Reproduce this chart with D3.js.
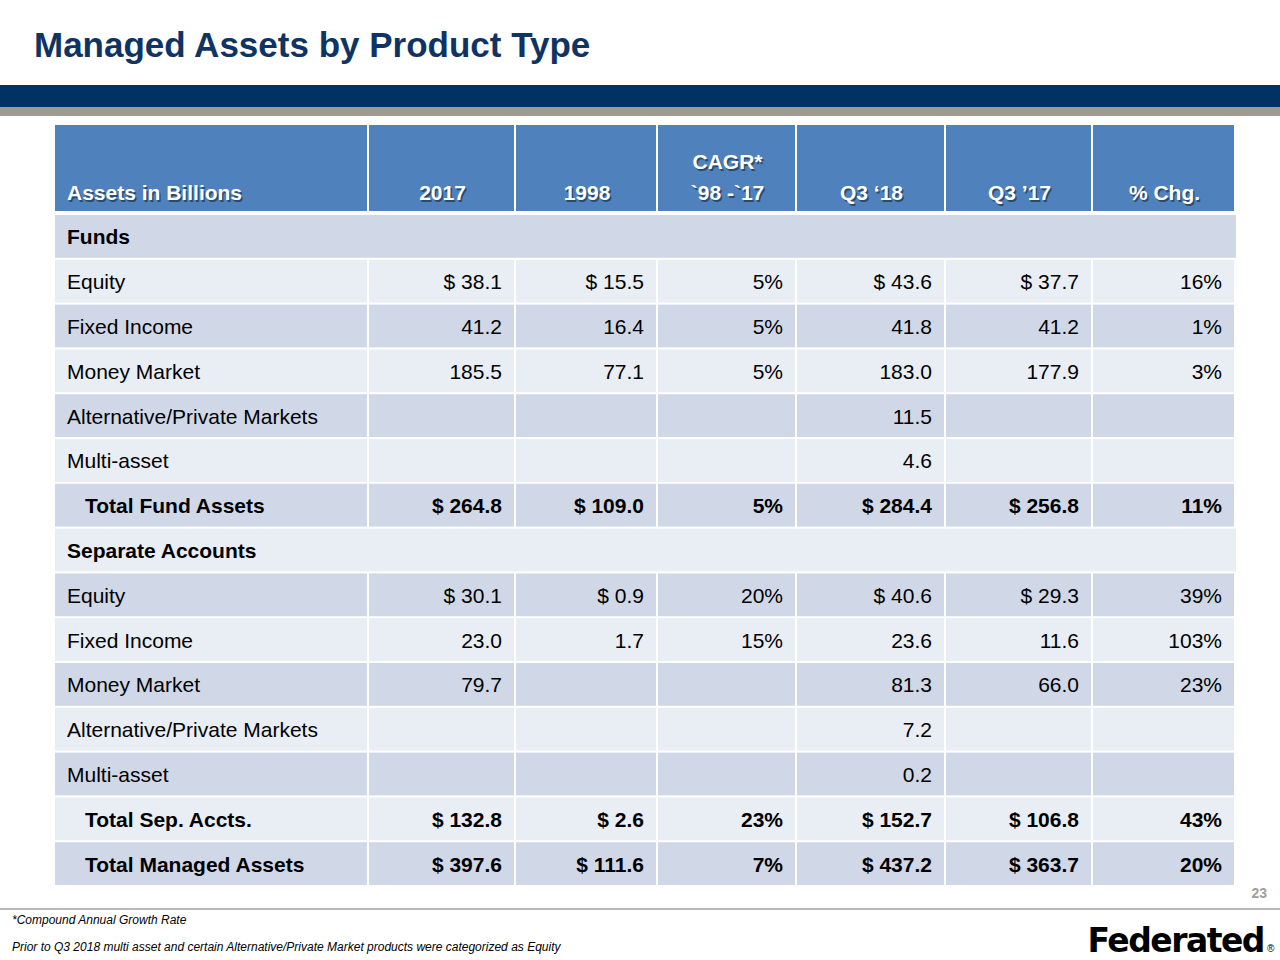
<!DOCTYPE html>
<html><head><meta charset="utf-8">
<script src="https://cdn.jsdelivr.net/npm/d3@7"></script>
<style>body{margin:0;background:#fff}</style>
</head><body>
<svg id="c" width="1280" height="960"></svg>
<script>
const headers = ["Assets in Billions", "2017", "1998", "`98 -`17", "Q3 \u201818", "Q3 \u201917", "% Chg."];
const rowLabels = ["Funds", "Equity", "Fixed Income", "Money Market", "Alternative/Private Markets", "Multi-asset", "Total Fund Assets",
  "Separate Accounts", "Equity", "Fixed Income", "Money Market", "Alternative/Private Markets", "Multi-asset", "Total Sep. Accts.", "Total Managed Assets"];
const rowKind = ["section", "", "", "", "", "", "total", "section", "", "", "", "", "", "total", "total"];
const col2017 = ["", "$ 38.1", "41.2", "185.5", "", "", "$ 264.8", "", "$ 30.1", "23.0", "79.7", "", "", "$ 132.8", "$ 397.6"];
const col1998 = ["", "$ 15.5", "16.4", "77.1", "", "", "$ 109.0", "", "$ 0.9", "1.7", "", "", "", "$ 2.6", "$ 111.6"];
const colCagr = ["", "5%", "5%", "5%", "", "", "5%", "", "20%", "15%", "", "", "", "23%", "7%"];
const colQ318 = ["", "$ 43.6", "41.8", "183.0", "11.5", "4.6", "$ 284.4", "", "$ 40.6", "23.6", "81.3", "7.2", "0.2", "$ 152.7", "$ 437.2"];
const colQ317 = ["", "$ 37.7", "41.2", "177.9", "", "", "$ 256.8", "", "$ 29.3", "11.6", "66.0", "", "", "$ 106.8", "$ 363.7"];
const colChg = ["", "16%", "1%", "3%", "", "", "11%", "", "39%", "103%", "23%", "", "", "43%", "20%"];
const cols = [rowLabels, col2017, col1998, colCagr, colQ318, colQ317, colChg];
const colEdges = [55, 369, 516, 658, 797, 946, 1093, 1236];

const svg = d3.select('#c');
const font = '"Liberation Sans", Arial, sans-serif';

svg.append('text').attr('x', 34).attr('y', 57).attr('font-family', font).attr('font-weight', 'bold')
  .attr('font-size', 35).attr('fill', '#0f3464').text('Managed Assets by Product Type');
svg.append('rect').attr('x', 0).attr('y', 85).attr('width', 1280).attr('height', 22).attr('fill', '#003263');
svg.append('rect').attr('x', 0).attr('y', 107).attr('width', 1280).attr('height', 9).attr('fill', '#a09a90');

const y = d3.scaleBand().domain(d3.range(rowLabels.length)).range([215, 887]);

// header
const g = svg.append('g');
for (let c = 0; c < 7; c++) {
  const x0 = colEdges[c], x1 = colEdges[c + 1];
  g.append('rect').attr('x', x0).attr('y', 125).attr('width', x1 - x0 - 2).attr('height', 86).attr('fill', '#4f81bd');
  const lines = c === 3 ? ["CAGR*", headers[c]] : [headers[c]];
  const tx = c === 0 ? x0 + 12 : (x0 + x1) / 2;
  lines.forEach((t, i) => {
    const yy = 200 - (lines.length - 1 - i) * 31;
    [[1.5, '#2a4a70'], [0, '#fff']].forEach(([o, f]) => {
      g.append('text').attr('x', tx + o).attr('y', yy + o).attr('text-anchor', c === 0 ? 'start' : 'middle')
        .attr('font-family', font).attr('font-weight', 'bold').attr('font-size', 21).attr('fill', f).text(t);
    });
  });
}

// body
rowLabels.forEach((lab, r) => {
  const fill = r % 2 === 0 ? '#d0d8e8' : '#e9edf4';
  const yy = y(r), h = y.bandwidth();
  const kind = rowKind[r];
  if (kind === 'section') {
    g.append('rect').attr('x', 55).attr('y', yy).attr('width', 1236 - 55).attr('height', h - 2).attr('fill', fill);
    g.append('text').attr('x', 67).attr('y', yy + h / 2 + 7).attr('font-family', font).attr('font-weight', 'bold')
      .attr('font-size', 21).attr('fill', '#000').text(lab);
    return;
  }
  for (let c = 0; c < 7; c++) {
    const x0 = colEdges[c], x1 = colEdges[c + 1];
    g.append('rect').attr('x', x0).attr('y', yy).attr('width', x1 - x0 - 2).attr('height', h - 2).attr('fill', fill);
    const t = cols[c][r];
    if (!t) continue;
    g.append('text').attr('x', c === 0 ? x0 + (kind === 'total' ? 30 : 12) : x1 - 14)
      .attr('y', yy + h / 2 + 7).attr('text-anchor', c === 0 ? 'start' : 'end')
      .attr('font-family', font).attr('font-weight', kind === 'total' ? 'bold' : 'normal')
      .attr('font-size', 21).attr('fill', '#000').text(t);
  }
});

svg.append('text').attr('x', 1267).attr('y', 898).attr('text-anchor', 'end').attr('font-family', font)
  .attr('font-weight', 'bold').attr('font-size', 14).attr('fill', '#a0a0a0').text('23');
svg.append('line').attr('x1', 0).attr('x2', 1280).attr('y1', 909).attr('y2', 909).attr('stroke', '#a0a0a0').attr('stroke-width', 1.5);
svg.append('text').attr('x', 12).attr('y', 924).attr('font-family', font).attr('font-style', 'italic')
  .attr('font-size', 12).text('*Compound Annual Growth Rate');
svg.append('text').attr('x', 12).attr('y', 951).attr('font-family', font).attr('font-style', 'italic')
  .attr('font-size', 12).text('Prior to Q3 2018 multi asset and certain Alternative/Private Market products were categorized as Equity');
svg.append('text').attr('x', 1264).attr('y', 952).attr('text-anchor', 'end').attr('font-family', '"DejaVu Sans", Arial, sans-serif')
  .attr('font-weight', 'bold').attr('font-size', 33).attr('letter-spacing', -1.5).attr('fill', '#000').text('Federated');
svg.append('text').attr('x', 1267).attr('y', 952).attr('font-family', font).attr('font-size', 10).text('\u00ae');
</script>
</body></html>
